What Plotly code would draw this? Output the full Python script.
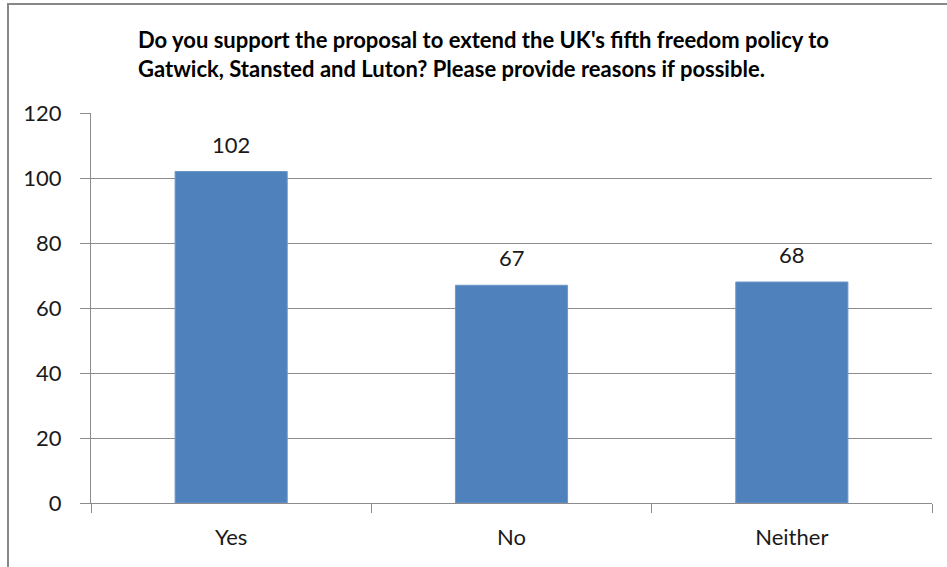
import plotly.graph_objects as go

# Survey responses
categories = ["Yes", "No", "Neither"]
responses = [102, 67, 68]
y_ticks = [0, 20, 40, 60, 80, 100, 120]

title_text = ("Do you support the proposal to extend the UK's fifth freedom policy to<br>"
              "Gatwick, Stansted and Luton? Please provide reasons if possible.")

W, H = 947, 567
L, R, T, B = 91, 15, 113, 64
pw, ph = W - L - R, H - T - B

def px_x(x):
    return (x - L) / pw

def px_y(y):
    return (H - B - y) / ph

FONT = "Lato"
BAR = "#4F81BD"
GRID = "#8C8C8C"
TXT = "#1a1a1a"

fig = go.Figure(
    go.Bar(
        x=categories,
        y=responses,
        marker=dict(color=BAR, line=dict(color="#6E97C9", width=1)),
        width=0.4,
    )
)

# value labels above each bar
value_labels = [
    dict(
        x=c, y=v, xref="x", yref="y",
        text=str(v), showarrow=False,
        yanchor="bottom", yshift=12,
        font=dict(family=FONT, size=22, color=TXT),
    )
    for c, v in zip(categories, responses)
]

fig.update_layout(
    width=W,
    height=H,
    margin=dict(l=L, r=R, t=T, b=B),
    paper_bgcolor="white",
    plot_bgcolor="white",
    showlegend=False,
    font=dict(family=FONT, size=22, color=TXT),
    annotations=[
        dict(
            text="<b>" + title_text + "</b>",
            xref="paper", yref="paper",
            x=px_x(136), y=px_y(24),
            xanchor="left", yanchor="top",
            align="left",
            showarrow=False,
            font=dict(family=FONT, size=22, color="#000000"),
        )
    ] + value_labels,
    shapes=[
        dict(
            type="rect", xref="paper", yref="paper",
            x0=px_x(8), x1=px_x(960), y0=px_y(580), y1=px_y(4),
            line=dict(color="#888888", width=2),
            fillcolor="rgba(0,0,0,0)",
            layer="above",
        )
    ],
)

fig.update_xaxes(
    type="category",
    showline=True, linecolor=GRID, linewidth=1,
    ticks="outside", tickson="boundaries", ticklen=9, tickcolor=GRID,
    showgrid=False,
    tickfont=dict(family=FONT, size=22, color=TXT),
    ticklabelstandoff=15,
)

fig.update_yaxes(
    range=[0, 120],
    tickvals=y_ticks,
    showline=True, linecolor=GRID, linewidth=1,
    ticks="outside", ticklen=10, tickcolor=GRID,
    showgrid=True, gridcolor=GRID, gridwidth=1,
    zeroline=False,
    tickfont=dict(family=FONT, size=22, color=TXT),
    ticklabelstandoff=14,
)

fig.write_html("out.html")
